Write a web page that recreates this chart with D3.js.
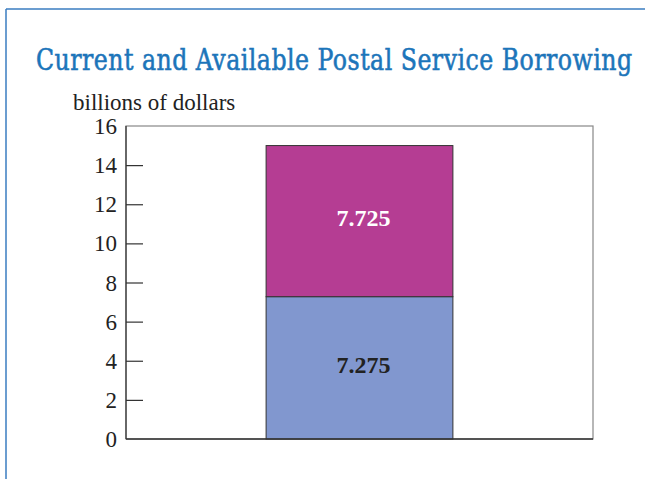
<!DOCTYPE html>
<html>
<head>
<meta charset="utf-8">
<script src="https://cdn.jsdelivr.net/npm/d3@7"></script>
<style>
  body { margin: 0; background: #fff; }
</style>
</head>
<body>
<div id="wrapper"></div>
<script>
const categories = ["Borrowing"];
const currentDebt = [7.275];
const availableBorrowing = [7.725];
const seriesColors = ["#8197cf", "#b53d93"];
const yTicks = [0, 2, 4, 6, 8, 10, 12, 14, 16];

const dimension = {
    width: 645,
    height: 479,
    margin: { top: 126, left: 126, bottom: 40, right: 52 }
};
dimension.boundedWidth = dimension.width - dimension.margin.left - dimension.margin.right;
dimension.boundedHeight = dimension.height - dimension.margin.top - dimension.margin.bottom;

const svg = d3.select("#wrapper").append("svg")
    .attr("width", dimension.width)
    .attr("height", dimension.height);

// outer frame (top and left blue rules)
svg.append("line").attr("x1", 6).attr("x2", 645).attr("y1", 9).attr("y2", 9)
    .attr("stroke", "#3a7cc0").attr("stroke-width", 1.5);
svg.append("line").attr("x1", 6).attr("x2", 6).attr("y1", 9).attr("y2", 479)
    .attr("stroke", "#3a7cc0").attr("stroke-width", 1.5);

// title: fit the width, then stretch vertically to the tall condensed look
const titleWidth = 594;
const title = svg.append("text")
    .attr("x", 0).attr("y", 0)
    .style("font-family", "DejaVu Serif Condensed")
    .style("font-size", "30px")
    .style("letter-spacing", "0.5px")
    .attr("fill", "#1c75ba")
    .attr("stroke", "#1c75ba").attr("stroke-width", 0.5)
    .text("Current and Available Postal Service Borrowing");
const natural = title.node().getComputedTextLength();
const fs = 30 * titleWidth / natural;
title.style("font-size", fs + "px")
    .attr("transform", `translate(36,70) scale(1,${30 / fs})`);

svg.append("text")
    .attr("x", 73).attr("y", 110)
    .style("font-family", "Liberation Serif")
    .style("font-size", "23px")
    .attr("fill", "#222")
    .text("billions of dollars");

const bounded = svg.append("g")
    .attr("transform", `translate(${dimension.margin.left},${dimension.margin.top})`);

const yScale = d3.scaleLinear().domain([0, 16]).range([dimension.boundedHeight, 0]);
const xScale = d3.scaleBand().domain(categories).range([0, dimension.boundedWidth])
    .paddingInner(0).paddingOuter(0.75);

const stackData = categories.map((c, i) => ({ cat: c, current: currentDebt[i], available: availableBorrowing[i] }));
const stack = d3.stack().keys(["current", "available"])(stackData);

// frame
bounded.append("rect")
    .attr("x", 0).attr("y", 0)
    .attr("width", dimension.boundedWidth).attr("height", dimension.boundedHeight)
    .attr("fill", "none").attr("stroke", "#888").attr("stroke-width", 1.2);

bounded.selectAll("g.layer").data(stack).join("g")
    .attr("class", "layer")
    .attr("fill", (d, i) => seriesColors[i])
    .selectAll("rect").data(d => d).join("rect")
    .attr("x", d => xScale(d.data.cat))
    .attr("width", xScale.bandwidth())
    .attr("y", d => yScale(d[1]))
    .attr("height", d => yScale(d[0]) - yScale(d[1]))
    .attr("stroke", "#333").attr("stroke-width", 1);

const yAxis = d3.axisRight(yScale).tickValues(yTicks).tickSize(17).tickFormat("");
const yg = bounded.append("g").call(yAxis);
yg.select(".domain").remove();
yg.selectAll(".tick line").attr("stroke", "#333").attr("stroke-width", 1.2);
yg.selectAll(".tick").filter(d => d === 0 || d === 16).select("line").remove();

bounded.selectAll("text.ylab").data(yTicks).join("text")
    .attr("class", "ylab")
    .attr("x", -9)
    .attr("y", d => yScale(d))
    .attr("dy", "0.35em")
    .attr("text-anchor", "end")
    .style("font-family", "Liberation Serif")
    .style("font-size", "23px")
    .attr("fill", "#222")
    .text(d => d);

// axes lines (darker left and bottom)
bounded.append("line").attr("x1", 0).attr("x2", 0).attr("y1", 0).attr("y2", dimension.boundedHeight)
    .attr("stroke", "#333").attr("stroke-width", 1.2);
bounded.append("line").attr("x1", 0).attr("x2", dimension.boundedWidth)
    .attr("y1", dimension.boundedHeight).attr("y2", dimension.boundedHeight)
    .attr("stroke", "#333").attr("stroke-width", 1.5);

// value labels
const labelColors = ["#222", "#fff"];
stack.forEach((layer, i) => {
    bounded.selectAll("text.val" + i).data(layer).join("text")
        .attr("class", "val" + i)
        .attr("x", d => xScale(d.data.cat) + xScale.bandwidth() / 2 + 4)
        .attr("y", d => yScale((d[0] + d[1]) / 2))
        .attr("dy", "0.2em")
        .attr("text-anchor", "middle")
        .style("font-family", "Liberation Serif")
        .style("font-weight", "bold")
        .style("font-size", "24px")
        .attr("fill", labelColors[i])
        .text(d => (d[1] - d[0]).toFixed(3));
});
</script>
</body>
</html>
